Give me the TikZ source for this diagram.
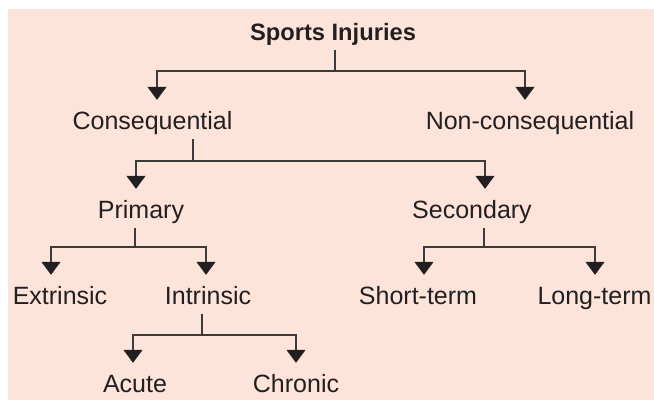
\documentclass[tikz,border=0pt]{standalone}
\usepackage{fontspec}
\setmainfont{Liberation Sans}
\usetikzlibrary{arrows.meta}
\definecolor{bgc}{RGB}{253,228,218}
\definecolor{txt}{RGB}{35,31,32}
\definecolor{lnc}{RGB}{60,58,58}
\begin{document}
\begin{tikzpicture}[x=1pt,y=-1pt,
  lbl/.style={font=\fontsize{25}{29}\selectfont, text=txt, text height=24pt, text depth=5pt, inner ysep=5pt, inner xsep=0pt, anchor=base},
  ln/.style={draw=lnc, line width=1.2pt},
  arr/.style={ln, -{Triangle[width=19pt,length=13pt,fill=txt,color=txt]}}]
\useasboundingbox (0,0) rectangle (654,400);
\fill[bgc] (8,9) rectangle (654,400);

\node[lbl, font=\fontsize{23.7}{28}\selectfont\bfseries] (title) at (333,40) {Sports Injuries};
\node[lbl] (cons) at (152.5,129) {Consequential};
\node[lbl] (noncons) at (530,129) {Non-consequential};
\node[lbl] (prim) at (141,218) {Primary};
\node[lbl] (sec) at (472,218) {Secondary};
\node[lbl] (ext) at (60,304) {Extrinsic};
\node[lbl] (intr) at (208,304) {Intrinsic};
\node[lbl] (short) at (418,304) {Short-term};
\node[lbl] (long) at (594.5,304) {Long-term};
\node[lbl] (acute) at (135,392) {Acute};
\node[lbl] (chronic) at (296,392) {Chronic};

\coordinate (j1) at (335,71);
\coordinate (j2) at (193,161);
\coordinate (j3) at (135,247);
\coordinate (j4) at (484,247);
\coordinate (j5) at (202,335);

\draw[ln] (title.south -| j1) -- (j1);
\draw[arr] (j1) -| ([xshift=4.5pt]cons.north);
\draw[arr] (j1) -| ([xshift=-5pt]noncons.north);

\draw[ln] (cons.south -| j2) -- (j2);
\draw[arr] (j2) -| ([xshift=-5pt]prim.north);
\draw[arr] (j2) -| ([xshift=13pt]sec.north);

\draw[ln] (prim.south -| j3) -- (j3);
\draw[arr] (j3) -| ([xshift=-9pt]ext.north);
\draw[arr] (j3) -| ([xshift=-2pt]intr.north);

\draw[ln] (sec.south -| j4) -- (j4);
\draw[arr] (j4) -| ([xshift=6pt]short.north);
\draw[arr] (j4) -| ([xshift=0.5pt]long.north);

\draw[ln] (intr.south -| j5) -- (j5);
\draw[arr] (j5) -| ([xshift=-2pt]acute.north);
\draw[arr] (j5) -| (chronic.north);
\end{tikzpicture}
\end{document}
